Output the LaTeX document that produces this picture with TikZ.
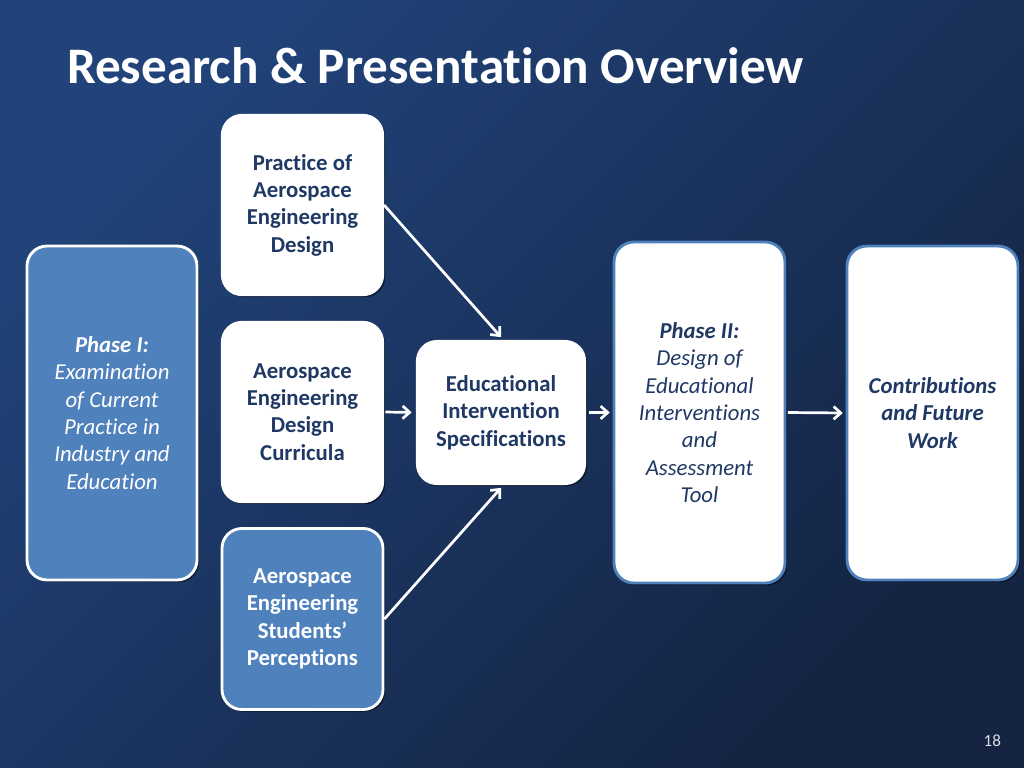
\documentclass[tikz,border=0pt]{standalone}
\usepackage{fontspec}
\setmainfont{Carlito}[Ligatures=NoCommon]
\usetikzlibrary{positioning, arrows.meta, shadows}

\definecolor{bgtop}{RGB}{33,67,122}
\definecolor{bgbot}{RGB}{20,36,66}
\definecolor{navy}{RGB}{31,56,100}
\definecolor{steel}{RGB}{79,129,189}

\begin{document}
\begin{tikzpicture}[x=0.703125pt, y=-0.703125pt,
  box/.style={rectangle, rounded corners=14pt, align=center, inner sep=0pt,
    font=\fontsize{16}{19.2}\selectfont,
    drop shadow={shadow xshift=1.5pt, shadow yshift=-1.5pt, opacity=0.5, fill=black}},
  whitebox/.style={box, fill=white, draw=white, line width=1.5pt, text=navy, font=\fontsize{16}{19.2}\selectfont\bfseries},
  bluebox/.style={box, fill=steel, draw=white, line width=2pt, text=white},
  phasebox/.style={box, fill=white, draw=steel, line width=2pt, text=navy},
  arr/.style={-{Straight Barb[length=5pt, width=9pt]}, white, line width=1.9pt}]
    % background
    \shade[top color=bgtop, bottom color=bgbot, shading angle=45] (0,0) rectangle (1024,768);
    \useasboundingbox (0,0) rectangle (1024,768);
    \node[anchor=base west, text=white, font=\fontsize{36}{43}\selectfont\bfseries] (title) at (62,84) {Research \& Presentation Overview};
    % left column
    \node[bluebox, minimum width=119.5pt, minimum height=234.8pt, font=\fontsize{16}{19.2}\selectfont\itshape] (phaseone) at (112,413)
      {{\bfseries Phase I:}\\ Examination\\ of Current\\ Practice in\\ Industry and\\ Education};
    \node[whitebox, minimum width=113.2pt, minimum height=126.6pt] (practice) at (302.5,205)
      {Practice of\\ Aerospace\\ Engineering\\ Design};
    \node[whitebox, minimum width=113.2pt, minimum height=126.6pt] (curricula) at (302.5,412)
      {Aerospace\\ Engineering\\ Design\\ Curricula};
    \node[bluebox, minimum width=113.2pt, minimum height=127.3pt, font=\fontsize{16}{19.2}\selectfont\bfseries] (students) at (302.5,619)
      {Aerospace\\ Engineering\\ Students'\\ Perceptions};
    \node[whitebox, minimum width=118.1pt, minimum height=100.5pt] (specs) at (501,412.5)
      {Educational\\ Intervention\\ Specifications};
    % right column
    \node[phasebox, minimum width=120.2pt, minimum height=239.8pt, font=\fontsize{16}{19.2}\selectfont\itshape] (phasetwo) at (699.5,412.5)
      {{\bfseries Phase II:}\\ Design of\\ Educational\\ Interventions\\ and\\ Assessment\\ Tool};
    \node[phasebox, minimum width=120.2pt, minimum height=234.8pt, font=\fontsize{16}{19.2}\selectfont\bfseries\itshape] (future) at (932.5,413)
      {Contributions\\ and Future\\ Work};
    % arrows
    \draw[arr] (practice.east) -- ([yshift=2pt]specs.north);
    \draw[arr, shorten <=1pt, shorten >=3pt] (curricula.east) -- (specs.west);
    \draw[arr] (students.east) -- ([yshift=-2pt]specs.south);
    \draw[arr, shorten <=2pt, shorten >=2pt] (specs.east) -- (phasetwo.west);
    \draw[arr, shorten <=1pt, shorten >=2pt] (phasetwo.east) -- (future.west);
    \node[anchor=base east, text=white!85!bgbot, font=\fontsize{12}{14}\selectfont] (pagenum) at (1006,746) {18};
\end{tikzpicture}
\end{document}
